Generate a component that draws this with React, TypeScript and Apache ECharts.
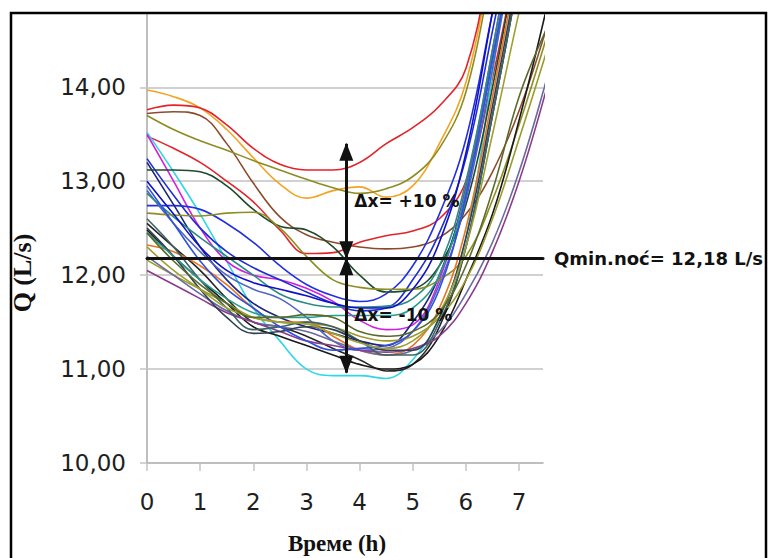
import { useEffect, useRef } from "react";
import * as echarts from "echarts";

// Sampling hours of the night-flow records
const HOURS = [0, 0.5, 1, 1.5, 2, 2.5, 3, 3.5, 4, 4.5, 5, 5.5, 6, 6.5, 7, 7.5];

// Flow Q (L/s) for each recorded night
const NIGHT_01 = [13.97, 13.9, 13.78, 13.55, 13.25, 12.97, 12.82, 12.9, 12.94, 12.83, 12.95, 13.4, 14.05, 15.4, 16.8, 18.2];
const NIGHT_02 = [13.76, 13.81, 13.78, 13.6, 13.35, 13.18, 13.12, 13.12, 13.2, 13.4, 13.57, 13.8, 14.2, 15.5, 16.9, 18.3];
const NIGHT_03 = [13.72, 13.74, 13.7, 13.4, 12.98, 12.62, 12.43, 12.35, 12.3, 12.28, 12.3, 12.4, 12.65, 13.1, 13.75, 14.6];
const NIGHT_04 = [13.7, 13.55, 13.43, 13.33, 13.22, 13.12, 13.02, 12.93, 12.87, 12.92, 13.05, 13.35, 13.95, 15.3, 16.7, 18];
const NIGHT_05 = [13.48, 13.35, 13.2, 13.0, 12.78, 12.48, 12.23, 12.24, 12.35, 12.42, 12.47, 12.6, 13.0, 14.1, 15.5, 17];
const NIGHT_06 = [13.52, 13.1, 12.65, 12.15, 11.65, 11.3, 11.0, 10.93, 10.93, 10.9, 11.1, 11.55, 12.4, 14.15, 16, 17.8];
const NIGHT_07 = [13.5, 13.0, 12.5, 12.15, 12.0, 11.95, 11.86, 11.72, 11.52, 11.42, 11.47, 11.95, 12.95, 14.4, 16, 17.6];
const NIGHT_08 = [12.74, 12.74, 12.7, 12.55, 12.35, 12.1, 11.9, 11.78, 11.72, 11.8, 12.1, 12.65, 13.45, 14.8, 16.2, 17.6];
const NIGHT_09 = [13.24, 12.85, 12.5, 12.25, 12.08, 11.95, 11.82, 11.7, 11.62, 11.65, 11.95, 12.45, 13.25, 14.6, 16, 17.5];
const NIGHT_10 = [13.2, 12.75, 12.3, 11.95, 11.7, 11.55, 11.45, 11.38, 11.3, 11.25, 11.5, 12.0, 12.9, 14.3, 15.8, 17.3];
const NIGHT_11 = [13.12, 13.12, 13.1, 12.95, 12.7, 12.52, 12.48, 12.3, 12.0, 11.82, 11.85, 12.1, 12.75, 14.0, 15.5, 17];
const NIGHT_12 = [12.9, 12.55, 12.25, 12.0, 11.85, 11.75, 11.55, 11.3, 11.2, 11.22, 11.4, 11.9, 12.8, 14.2, 15.8, 17.3];
const NIGHT_13 = [12.87, 12.62, 12.4, 12.2, 12.0, 11.8, 11.7, 11.66, 11.66, 11.67, 11.75, 12.1, 13.0, 14.4, 16, 17.5];
const NIGHT_14 = [12.66, 12.64, 12.63, 12.66, 12.67, 12.5, 12.2, 11.95, 11.87, 11.85, 11.85, 11.95, 12.2, 12.8, 13.6, 14.5];
const NIGHT_15 = [12.55, 12.3, 12.05, 11.75, 11.5, 11.45, 11.35, 11.22, 11.1, 10.98, 11.05, 11.45, 12.3, 13.7, 15.2, 16.8];
const NIGHT_16 = [12.48, 12.2, 11.95, 11.7, 11.45, 11.35, 11.25, 11.15, 11.05, 11.0, 11.05, 11.35, 11.95, 12.65, 13.65, 14.8];
const NIGHT_17 = [12.32, 12.25, 12.1, 11.9, 11.65, 11.5, 11.5, 11.35, 11.2, 11.15, 11.25, 11.65, 12.5, 13.9, 15.4, 17];
const NIGHT_18 = [12.16, 12.0, 11.85, 11.7, 11.55, 11.5, 11.48, 11.45, 11.35, 11.3, 11.35, 11.55, 11.95, 12.6, 13.45, 14.35];
const NIGHT_19 = [12.2, 12.0, 11.8, 11.62, 11.5, 11.45, 11.4, 11.3, 11.2, 11.15, 11.2, 11.4, 11.8, 12.35, 13.1, 14.05];
const NIGHT_20 = [12.05, 11.9, 11.75, 11.6, 11.5, 11.4, 11.3, 11.25, 11.2, 11.18, 11.22, 11.35, 11.7, 12.25, 13.0, 13.95];
const NIGHT_21 = [12.6, 12.3, 11.95, 11.65, 11.42, 11.45, 11.5, 11.45, 11.3, 11.15, 11.15, 11.5, 12.3, 13.7, 15.2, 16.8];
const NIGHT_22 = [12.5, 12.2, 11.85, 11.55, 11.38, 11.4, 11.45, 11.42, 11.3, 11.2, 11.2, 11.55, 12.4, 13.8, 15.3, 17];
const NIGHT_23 = [12.45, 12.2, 11.95, 11.75, 11.6, 11.55, 11.55, 11.57, 11.57, 11.57, 11.65, 12.0, 12.9, 14.3, 15.8, 17.3];
const NIGHT_24 = [12.95, 12.55, 12.15, 11.85, 11.65, 11.45, 11.3, 11.2, 11.22, 11.25, 11.4, 11.85, 12.85, 14.3, 15.8, 17.3];
const NIGHT_25 = [13.0, 12.65, 12.3, 12.05, 11.92, 11.85, 11.78, 11.7, 11.65, 11.65, 11.85, 12.35, 13.3, 14.8, 16.3, 17.8];
const NIGHT_26 = [12.3, 12.05, 11.85, 11.65, 11.55, 11.5, 11.48, 11.38, 11.28, 11.22, 11.3, 11.6, 12.3, 13.5, 14.8, 16];
const NIGHT_27 = [12.45, 12.15, 11.9, 11.7, 11.55, 11.55, 11.58, 11.55, 11.4, 11.35, 11.4, 11.6, 12.1, 12.9, 13.9, 14.6];

const NIGHTS = [
  NIGHT_01, NIGHT_02, NIGHT_03, NIGHT_04, NIGHT_05, NIGHT_06, NIGHT_07, NIGHT_08, NIGHT_09,
  NIGHT_10, NIGHT_11, NIGHT_12, NIGHT_13, NIGHT_14, NIGHT_15, NIGHT_16, NIGHT_17, NIGHT_18,
  NIGHT_19, NIGHT_20, NIGHT_21, NIGHT_22, NIGHT_23, NIGHT_24, NIGHT_25, NIGHT_26, NIGHT_27,
];

const NIGHT_COLORS = [
  "#f4a321", "#e3232a", "#8e4a2c", "#8c8c22", "#e3232a", "#2fd6e6", "#d21fe0", "#2230e0", "#1e2ed2",
  "#1b2580", "#1e4a2c", "#5064c4", "#2a8c80", "#8e8e24", "#262626", "#1a1a1a", "#ea7420", "#9a9a2a",
  "#6a6a9e", "#8c3c8c", "#3c6464", "#2f3f50", "#2a9c8c", "#3050e0", "#1010c8", "#a0a032", "#5a6a2a",
];

// Axis ticks and reference levels
const X_TICKS = [0, 1, 2, 3, 4, 5, 6, 7];
const Y_TICKS = [10, 11, 12, 13, 14];
const GRID_LEVELS = [11, 12, 13, 14];
const X_MAX = 7.45;
const Y_MAX = 14.78;
const Q_MIN = 12.18; // minimum night flow, L/s
const DELTA = 0.1; // ±10 % band
const ARROW_HOUR = 3.75;

const comma = (v: number) => v.toFixed(2).replace(".", ",");

export default function App() {
  const ref = useRef<HTMLDivElement>(null);

  useEffect(() => {
    if (!ref.current) return;
    const chart = echarts.init(ref.current, null, { renderer: "svg" });

    const upper = Q_MIN * (1 + DELTA);
    const lower = Q_MIN * (1 - DELTA);
    const arrowLine = { color: "#111", width: 3, type: "solid" as const };

    const curves = NIGHTS.map((vals, i) => ({
      type: "line",
      name: `Q${i + 1}`,
      data: HOURS.map((h, k) => [h, vals[k]]),
      smooth: 0.4,
      symbol: "none",
      clip: true,
      z: 2,
      lineStyle: { color: NIGHT_COLORS[i], width: 1.6 },
      emphasis: { disabled: true },
    }));

    chart.setOption({
      animation: false,
      backgroundColor: "#ffffff",
      grid: { left: 147, right: 225, top: 14, bottom: 95, outerBoundsMode: "none" },
      xAxis: {
        type: "value",
        min: 0,
        max: X_MAX,
        interval: 1,
        axisLine: { show: true, lineStyle: { color: "#a9a9a9", width: 1.5 } },
        axisTick: { show: true, length: 8, customValues: X_TICKS, lineStyle: { color: "#c4c4c4", width: 1.5 } },
        axisLabel: {
          customValues: X_TICKS,
          margin: 27,
          fontFamily: "DejaVu Sans",
          fontSize: 23,
          color: "#1e1e1e",
        },
        splitLine: { show: false },
      },
      yAxis: {
        type: "value",
        min: 10,
        max: Y_MAX,
        interval: 1,
        axisLine: { show: true, lineStyle: { color: "#a9a9a9", width: 1.5 } },
        axisTick: { show: true, length: 7, customValues: Y_TICKS, lineStyle: { color: "#c4c4c4", width: 1.5 } },
        axisLabel: {
          customValues: Y_TICKS,
          margin: 21,
          fontFamily: "DejaVu Sans",
          fontSize: 23,
          color: "#1e1e1e",
          formatter: (v: number) => comma(v),
        },
        splitLine: { show: false },
      },
      series: [
        {
          type: "line",
          name: "grid",
          data: [],
          z: 1,
          markLine: {
            silent: true,
            z: 1,
            symbol: ["none", "none"],
            label: { show: false },
            lineStyle: { color: "#c2c2c2", width: 1.5, type: "solid" },
            data: GRID_LEVELS.map((v) => ({ yAxis: v })),
          },
        },
        ...curves,
        {
          type: "line",
          name: "qmin",
          data: [],
          z: 10,
          markLine: {
            silent: true,
            z: 10,
            symbol: ["none", "none"],
            lineStyle: { color: "#111", width: 3, type: "solid", cap: "round" },
            label: {
              show: true,
              position: "end",
              distance: 11,
              formatter: `Qmin.noć= ${comma(Q_MIN)} L/s`,
              fontFamily: "DejaVu Sans",
              fontWeight: "bold",
              fontSize: 18,
              color: "#111",
            },
            data: [{ yAxis: Q_MIN }],
          },
        },
        {
          type: "line",
          name: "band",
          data: [],
          z: 11,
          markLine: {
            silent: true,
            z: 11,
            symbol: ["triangle", "triangle"],
            symbolSize: [14, 18],
            symbolOffset: [[0, 8], [0, 8]],
            label: { show: false },
            lineStyle: arrowLine,
            data: [
              [{ coord: [ARROW_HOUR, Q_MIN] }, { coord: [ARROW_HOUR, upper] }],
              [{ coord: [ARROW_HOUR, Q_MIN] }, { coord: [ARROW_HOUR, lower] }],
            ],
          },
          markPoint: {
            silent: true,
            z: 12,
            symbol: "circle",
            symbolSize: 0,
            label: {
              show: true,
              position: "right",
              distance: 8,
              fontFamily: "DejaVu Sans",
              fontWeight: "bold",
              fontSize: 17,
              color: "#111",
            },
            data: [
              { coord: [ARROW_HOUR, (Q_MIN + upper) / 2], label: { formatter: `Δx= +${DELTA * 100} %` } },
              { coord: [ARROW_HOUR, (Q_MIN + lower) / 2], label: { formatter: `Δx= -${DELTA * 100} %` } },
            ],
          },
        },
      ],
      graphic: [
        {
          type: "text",
          x: 22,
          y: 273,
          rotation: Math.PI / 2,
          silent: true,
          style: {
            text: "Q (L/s)",
            fontFamily: "Liberation Serif",
            fontWeight: "bold",
            fontSize: 26,
            fill: "#111",
            align: "center",
            verticalAlign: "middle",
          },
        },
        {
          type: "text",
          x: 337,
          y: 543,
          silent: true,
          style: {
            text: "Време (h)",
            fontFamily: "Liberation Serif",
            fontWeight: "bold",
            fontSize: 23,
            fill: "#111",
            align: "center",
            verticalAlign: "middle",
          },
        },
        {
          type: "rect",
          silent: true,
          z: 100,
          shape: { x: 11, y: 13, width: 755, height: 640 },
          style: { fill: "none", stroke: "#000", lineWidth: 2.5 },
        },
      ],
    });

    return () => chart.dispose();
  }, []);

  return (
    <div
      ref={ref}
      style={{ position: "fixed", left: 0, top: 0, width: 768, height: 558, background: "#fff" }}
    />
  );
}
